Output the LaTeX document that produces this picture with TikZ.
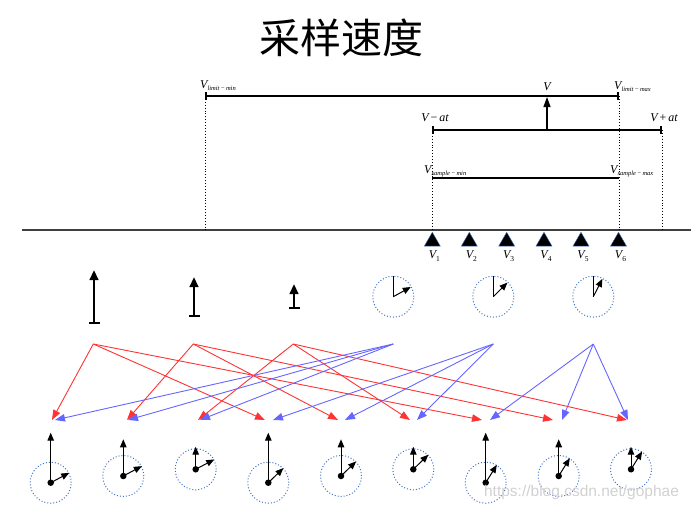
\documentclass[tikz,border=0pt]{standalone}
\usepackage{fontspec}
\newfontfamily\cjk{Noto Sans CJK SC}
\newfontfamily\wmfont{Liberation Sans}
\newfontfamily\tms{Liberation Serif}
\usetikzlibrary{arrows.meta,shapes.geometric,calc}
\definecolor{myred}{RGB}{255,51,51}
\definecolor{myblue}{RGB}{102,102,255}
\definecolor{dotblue}{RGB}{68,114,196}
\newcommand{\subtxt}[1]{\raisebox{-2pt}{\fontsize{6.5}{7}\selectfont\itshape #1}}
\newcommand{\numsub}[1]{\raisebox{-3pt}{\fontsize{7.5}{8}\selectfont\upshape #1}}
\begin{document}
\begin{tikzpicture}[x=1pt,y=-1pt,
  redarr/.style={myred, line width=0.9pt, -{Triangle[length=10pt,width=7.5pt]}},
  bluearr/.style={myblue, line width=0.9pt, -{Triangle[length=10pt,width=7.5pt]}},
  thickbar/.style={line width=2.4pt, {Bar[width=8pt]}-{Bar[width=8pt]}},
  guide/.style={dotted, line width=0.9pt},
  lbl/.style={inner sep=0pt, font=\tms\itshape\fontsize{12}{13}\selectfont},
  tri/.style={regular polygon, regular polygon sides=3, fill=black, draw=dotblue, line width=0.4pt, inner sep=0pt, minimum size=18.5pt},
  clock/.style={circle, draw=dotblue, dotted, line width=1pt, minimum size=41pt, inner sep=0pt},
  hub/.style={circle, fill=black, inner sep=0pt, minimum size=6.5pt},
  vec/.style={line width=2.8pt, {Bar[width=11pt,line width=2pt]}-{Triangle[length=10pt,width=8.5pt]}},
  hand/.style={line width=1pt, -{Triangle[length=8pt,width=6.5pt]}},
]
\useasboundingbox (0,0) rectangle (691,511);

% title
\node[inner sep=0pt, font=\cjk\fontsize{41}{41}\selectfont] (title) at (341.7,38) {采样速度};

% axis
\coordinate (axL) at (22,230);
\coordinate (axR) at (691,230);
\draw[line width=1.3pt, black!75] (axL) -- (axR);

% limit line
\coordinate (lmin) at (205,96);
\coordinate (lmax) at (619,96);
\draw[thickbar] (lmin) -- (lmax);
\node[lbl, anchor=west] (llmin) at (200,86) {V\subtxt{limit\,−\,min}};
\node[lbl, anchor=west] (llmax) at (614,87) {V\subtxt{limit\,−\,max}};

% V +- at line
\coordinate (amin) at (432,130);
\coordinate (amax) at (662,130);
\draw[thickbar] (amin) -- (amax);
\node[lbl] (lamin) at (435,118) {V\,{\upshape −}\,at};
\node[lbl] (lamax) at (664,118) {V\,{\upshape +}\,at};

% V arrow
\coordinate (vbot) at (547,130);
\coordinate (vtop) at (547,97);
\draw[line width=1.1pt, -{Triangle[length=10pt,width=7pt]}] (vbot) -- (vtop);
\node[lbl] (lv) at (547,87) {V};

% sample line
\coordinate (smin) at (432,178);
\coordinate (smax) at (619,178);
\draw[line width=1.1pt] (smin) -- (smax);
\node[lbl, anchor=west] (lsmin) at (424,171) {V\subtxt{sample\,−\,min}};
\node[lbl, anchor=west] (lsmax) at (610,171) {V\subtxt{sample\,−\,max}};

% guides
\coordinate (g1) at (205,230);
\coordinate (g2) at (432,230);
\coordinate (g3) at (619,230);
\coordinate (g4) at (662,230);
\draw[guide] (lmin) -- (g1);
\draw[guide] (amin) -- (g2);
\draw[guide] (lmax) -- (g3);
\draw[guide] (amax) -- (g4);

% sample markers
\foreach \x [count=\i] in {432.3,469.3,506.7,544,581,618.5}{
  \node[tri] (m\i) at (\x,241.5) {};
  \node[lbl] (ml\i) at (\x+2,256) {V\numsub{\i}};
}

% velocity vectors
\foreach \x/\yb/\yt [count=\i] in {94/324/270, 194/317/277, 294/309/284}{
  \coordinate (vb\i) at (\x,\yb);
  \coordinate (vt\i) at (\x,\yt);
  \draw[vec] (vb\i) -- (vt\i);
}

% upper clocks
\foreach \x/\a [count=\i] in {393.3/-29, 493.3/-45, 593.3/-63}{
  \node[clock] (uc\i) at (\x,296.7) {};
  \draw[line width=1.1pt] (uc\i.center) -- (uc\i.north);
  \coordinate (ua\i) at ($(uc\i.center)+(\a:20)$);
}
\foreach \i in {1,2,3}{\draw[hand] (uc\i.center) -- (ua\i);}

% sources
\coordinate (rs1) at (93.3,344);
\coordinate (rs2) at (193.3,344);
\coordinate (rs3) at (293.3,344);
\coordinate (bs1) at (393.3,344);
\coordinate (bs2) at (493.3,344);
\coordinate (bs3) at (593.3,344);

% targets tips
\foreach \xr/\xb [count=\k] in {52/55, 127/128, 198/200, 265/273, 338/345, 410/417, 482/490, 553/562, 627/628}{
  \coordinate (rt\k) at (\xr,420);
  \coordinate (bt\k) at (\xb,420);
}

% connectors
\draw[redarr] (rs1) -- (rt1);
\draw[redarr] (rs1) -- (rt4);
\draw[redarr] (rs1) -- (rt7);
\draw[redarr] (rs2) -- (rt2);
\draw[redarr] (rs2) -- (rt5);
\draw[redarr] (rs2) -- (rt8);
\draw[redarr] (rs3) -- (rt3);
\draw[redarr] (rs3) -- (rt6);
\draw[redarr] (rs3) -- (rt9);
\draw[bluearr] (bs1) -- (bt1);
\draw[bluearr] (bs1) -- (bt2);
\draw[bluearr] (bs1) -- (bt3);
\draw[bluearr] (bs2) -- (bt4);
\draw[bluearr] (bs2) -- (bt5);
\draw[bluearr] (bs2) -- (bt6);
\draw[bluearr] (bs3) -- (bt7);
\draw[bluearr] (bs3) -- (bt8);
\draw[bluearr] (bs3) -- (bt9);

% bottom clocks
\foreach \x/\y/\L/\a [count=\k] in {
  50.7/482.7/50/-28, 123.3/476/36.7/-28, 195.7/469.3/22.6/-28,
  268.3/482.7/50/-44, 341/476/36.7/-44, 413.3/469.3/22.6/-44,
  485.7/482.7/50/-58, 558.7/476/36.7/-58, 631/469.3/22.6/-58}{
  \node[clock] (bc\k) at (\x,\y) {};
  \node[hub] (bh\k) at (\x,\y) {};
  \coordinate (bv\k) at (\x,\y-\L);
  \coordinate (ba\k) at ($(bh\k.center)+(\a:21)$);
  \draw[hand] (bh\k.center) -- (bv\k);
  \draw[hand] (bh\k.center) -- (ba\k);
}

% watermark
\node[inner sep=0pt, text=black!18, font=\wmfont\fontsize{15.5}{16}\selectfont] (wm) at (581.5,492) {https://blog.csdn.net/gophae};
\end{tikzpicture}
\end{document}
